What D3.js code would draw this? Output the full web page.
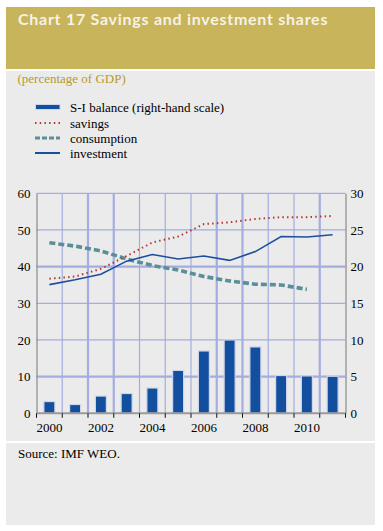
<!DOCTYPE html>
<html><head><meta charset="utf-8">
<script src="https://cdn.jsdelivr.net/npm/d3@7"></script>
<style>body{margin:0;background:#fff;}svg{display:block;}</style>
</head><body>
<script>
const years = [2000,2001,2002,2003,2004,2005,2006,2007,2008,2009,2010,2011];
const yearTicks = [2000,2002,2004,2006,2008,2010];
const siBalance = [1.6,1.2,2.35,2.7,3.45,5.85,8.5,10.0,9.05,5.15,5.1,5.05];
const savings = [36.7,37.3,39.4,42.9,46.6,48.2,51.6,52.1,53.0,53.5,53.5,53.8];
const consumption = [46.5,45.6,44.3,42.1,40.3,39.1,37.3,36.1,35.2,35.0,33.8,null];
const investment = [35.1,36.4,37.9,41.5,43.3,42.1,42.9,41.7,44.1,48.2,48.1,48.7];
const leftTicks = [0,10,20,30,40,50,60];
const rightTicks = [0,5,10,15,20,25,30];
const legendLabels = ["S-I balance (right-hand scale)","savings","consumption","investment"];

const W=383,H=531;
const svg=d3.select("body").append("svg").attr("width",W).attr("height",H);
const gold="#c8b45a", panel="#ebebeb", grid="#a3addf";
svg.append("rect").attr("x",6).attr("y",7).attr("width",369).attr("height",62).attr("fill",gold);
svg.append("rect").attr("x",6).attr("y",71).attr("width",369).attr("height",370).attr("fill",panel);
svg.append("rect").attr("x",6).attr("y",443).attr("width",369).attr("height",82).attr("fill",panel);

svg.append("text").attr("x",18).attr("y",25).text("Chart 17 Savings and investment shares")
  .attr("fill","#f6f2e6").attr("font-family","Lato").attr("font-weight","bold")
  .attr("font-size",16).attr("letter-spacing",0.73);
svg.append("text").attr("x",17.5).attr("y",83.3).text("(percentage of GDP)")
  .attr("fill","#b89a2e").attr("font-family","Liberation Serif").attr("font-size",13);

const serif="Liberation Serif";
const x=d3.scaleBand().domain(years).range([36.5,345.5]).padding(0);
const yL=d3.scaleLinear().domain([0,60]).range([413.3,193.3]);
const yR=d3.scaleLinear().domain([0,30]).range([413.3,193.3]);

const thickV=new Set([2,3,7,8,11]);
const g=svg.append("g");
years.slice(1).forEach((yr,i)=>{
  const xx=x(yr);
  g.append("line").attr("x1",xx).attr("x2",xx).attr("y1",yL(60)).attr("y2",yL(0))
   .attr("stroke",grid).attr("stroke-width",thickV.has(i+1)?2.2:1.2);
});
leftTicks.slice(1).forEach(t=>{
  g.append("line").attr("x1",x.range()[0]).attr("x2",x.range()[1]).attr("y1",yL(t)).attr("y2",yL(t))
   .attr("stroke",grid).attr("stroke-width",(t===40||t===10)?2.2:1.2);
});

svg.append("g").selectAll("rect").data(years).join("rect")
  .attr("x",d=>x(d)+x.bandwidth()/2-5.5).attr("width",11)
  .attr("y",(d,i)=>yR(siBalance[i])).attr("height",(d,i)=>yR(0)-yR(siBalance[i]))
  .attr("fill","#124f9f").attr("stroke","#d0d5ea").attr("stroke-width",1.2);

const cx=d=>x(d)+x.bandwidth()/2;
function drawLine(vals,attrs){
  const line=d3.line().defined(d=>d[1]!=null).x(d=>cx(d[0])).y(d=>yL(d[1]));
  const p=svg.append("path").datum(years.map((y,i)=>[y,vals[i]])).attr("d",line).attr("fill","none");
  Object.entries(attrs).forEach(([k,v])=>p.attr(k,v));
}
drawLine(consumption,{"stroke":"#5a8f98","stroke-width":3.6,"stroke-dasharray":"6,3"});
drawLine(investment,{"stroke":"#1d4e9e","stroke-width":1.6});
drawLine(savings,{"stroke":"#b03a32","stroke-width":2,"stroke-dasharray":"1.5,3.2","stroke-linecap":"butt"});

const axL=svg.append("g").attr("transform","translate(36.5,0)")
  .call(d3.axisLeft(yL).tickValues(leftTicks).tickSize(0).tickPadding(6));
const axR=svg.append("g").attr("transform","translate(345.5,0)")
  .call(d3.axisRight(yR).tickValues(rightTicks).tickSize(0).tickPadding(5));
[axL,axR].forEach(a=>{
  a.select(".domain").attr("stroke","#8a8a8a").attr("stroke-width",1.2);
  a.selectAll("text").attr("font-family",serif).attr("font-size",13).attr("fill","#000");
});
const axB=svg.append("g").attr("transform","translate(0,413.3)");
axB.append("line").attr("x1",36.5).attr("x2",345.5).attr("stroke","#9a9a9a").attr("stroke-width",2);
const boundaries=years.map(y=>x(y)).concat([x.range()[1]]);
axB.selectAll("line.tk").data(boundaries).join("line").attr("class","tk")
  .attr("x1",d=>d).attr("x2",d=>d).attr("y1",0).attr("y2",4.5).attr("stroke","#111").attr("stroke-width",1);
axB.selectAll("text").data(yearTicks).join("text")
  .attr("x",d=>cx(d)).attr("y",18.5).attr("text-anchor","middle").text(d=>d)
  .attr("font-family",serif).attr("font-size",13).attr("fill","#000");

const lg=svg.append("g");
const rows=[107,123,138,153];
lg.append("rect").attr("x",35.5).attr("y",rows[0]-2.5).attr("width",24.5).attr("height",5)
  .attr("fill","#124f9f").attr("stroke","#d0d5ea").attr("stroke-width",1);
lg.append("line").attr("x1",35).attr("x2",60).attr("y1",rows[1]).attr("y2",rows[1])
  .attr("stroke","#b03a32").attr("stroke-width",1.8).attr("stroke-dasharray","1.5,3.2");
lg.append("line").attr("x1",35).attr("x2",60).attr("y1",rows[2]).attr("y2",rows[2])
  .attr("stroke","#5a8f98").attr("stroke-width",3).attr("stroke-dasharray","5,2");
lg.append("line").attr("x1",35).attr("x2",60).attr("y1",rows[3]).attr("y2",rows[3])
  .attr("stroke","#1d4e9e").attr("stroke-width",2);
legendLabels.forEach((t,i)=>{
  lg.append("text").attr("x",70).attr("y",rows[i]+4.5).text(t)
    .attr("font-family",serif).attr("font-size",13).attr("fill","#000");
});

svg.append("text").attr("x",18).attr("y",458).text("Source: IMF WEO.")
  .attr("font-family",serif).attr("font-size",13).attr("fill","#000");
</script>
</body></html>
